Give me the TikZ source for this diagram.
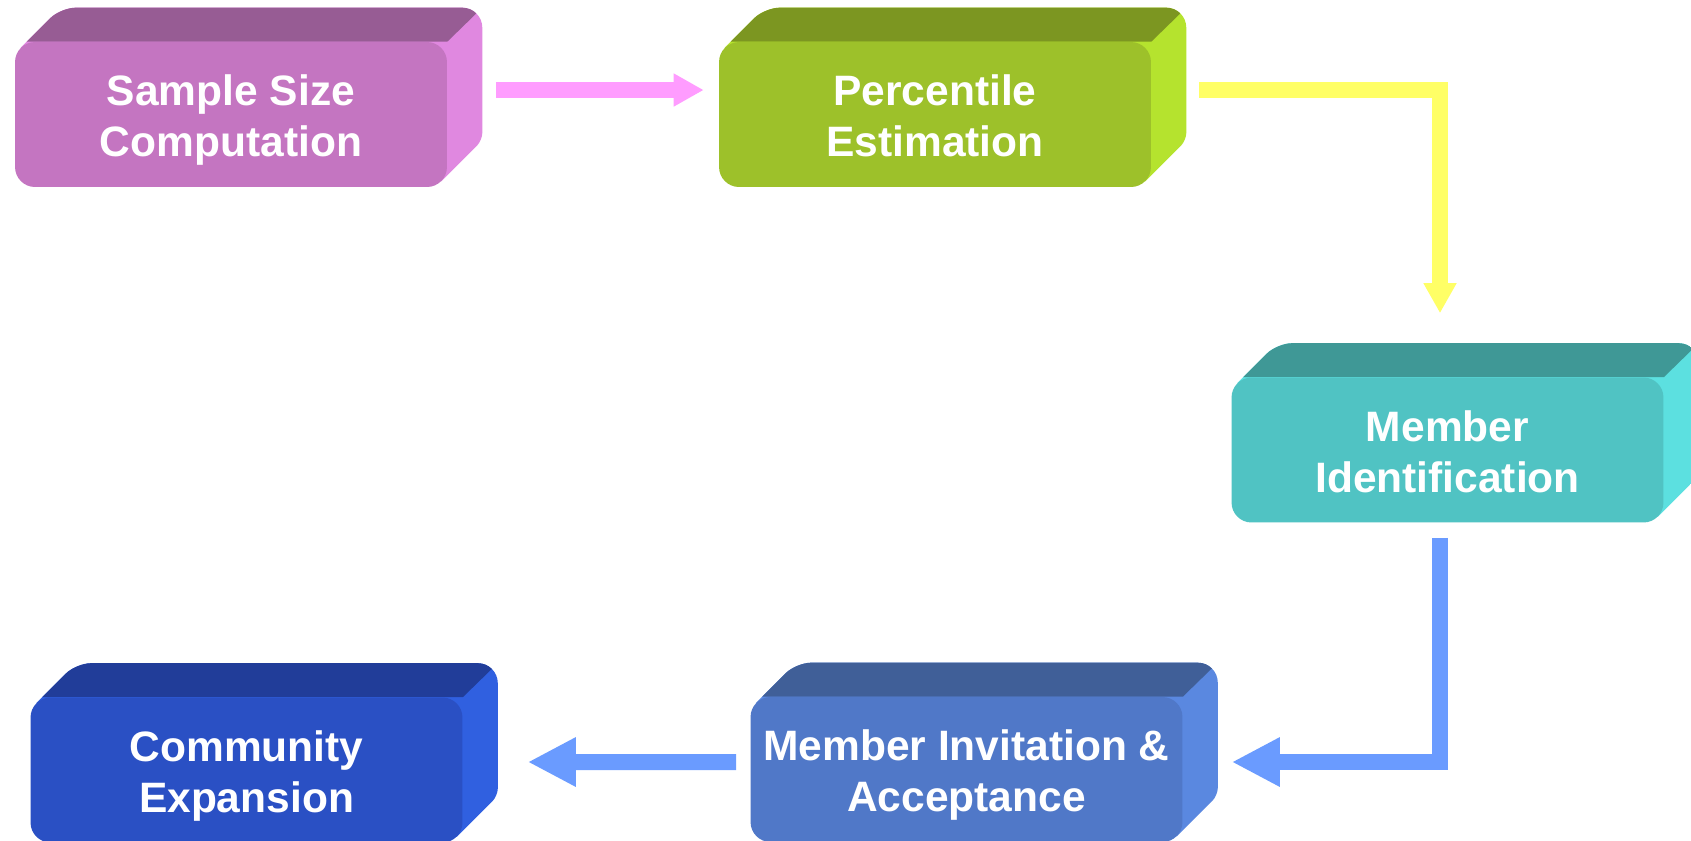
\documentclass[tikz,border=0pt]{standalone}
\usepackage{fontspec}
\setmainfont{Liberation Sans}
\usepackage{xcolor}
% face / top / side colours of each step
\definecolor{sampleface}{HTML}{C475C1}
\definecolor{sampletop}{HTML}{975C94}
\definecolor{sampleside}{HTML}{E088E0}
\definecolor{pctface}{HTML}{9DC12A}
\definecolor{pcttop}{HTML}{7C9621}
\definecolor{pctside}{HTML}{B5E32E}
\definecolor{identface}{HTML}{50C3C3}
\definecolor{identtop}{HTML}{3F9896}
\definecolor{identside}{HTML}{5CE0E0}
\definecolor{inviteface}{HTML}{5078C8}
\definecolor{invitetop}{HTML}{405F98}
\definecolor{inviteside}{HTML}{5A88E0}
\definecolor{expandface}{HTML}{2A50C4}
\definecolor{expandtop}{HTML}{213D99}
\definecolor{expandside}{HTML}{3060E0}
\definecolor{arrowpink}{HTML}{FF9CFF}
\definecolor{arrowyellow}{HTML}{FFFF66}
\definecolor{arrowblue}{HTML}{6A9BFF}
\usetikzlibrary{arrows.meta, backgrounds}

\begin{document}
\begin{tikzpicture}[
	x=0.02cm, y=-0.02cm,
	slab/.style={rectangle, rounded corners=0.4cm, minimum width=8.64cm, minimum height=2.9cm,
	             align=center, text=white, inner sep=0pt, text height=1.74cm, text depth=0.06cm,
	             font=\fontsize{24.2pt}{29pt}\selectfont\bfseries},
	flow/.style={line width=0.32cm, -{Triangle[length=0.6cm, width=0.62cm]}},
	bigflow/.style={line width=0.32cm, -{Triangle[length=0.96cm, width=0.92cm]}}
	]
	\useasboundingbox (0,0) rectangle (1691,840);

	\node[slab, fill=sampleface] (sample) at (231,114.5) {Sample Size\\Computation};
	\node[slab, fill=pctface] (pct) at (935,114.5) {Percentile\\Estimation};
	\node[slab, fill=identface] (ident) at (1447.5,450) {Member\\Identification};
	\node[slab, fill=inviteface] (invite) at (966.5,769.5) {Member Invitation \&\\Acceptance};
	\node[slab, fill=expandface] (expand) at (246.5,770) {Community\\Expansion};

	\draw[flow, arrowpink] ([xshift=0.98cm,yshift=0.49cm]sample.east) -- ([xshift=-0.3cm,yshift=0.49cm]pct.west);
	\draw[flow, arrowyellow] ([xshift=0.96cm,yshift=0.49cm]pct.east) -| ([xshift=-0.15cm,yshift=1.28cm]ident.north);
	\draw[bigflow, arrowblue] ([xshift=-0.15cm,yshift=-0.3cm]ident.south) |- ([xshift=0.98cm,yshift=0.15cm]invite.east);
	\draw[bigflow, arrowblue] ([xshift=-0.28cm,yshift=0.15cm]invite.west) -- ([xshift=1.3cm,yshift=0.16cm]expand.east);

	% extruded top and side faces behind every step
	\begin{scope}[on background layer]
	\fill[white] (0,0) rectangle (1691,840);
	\foreach \n in {sample, pct, ident, invite, expand} {
	  \begin{scope}
	  \clip (\n.center) -- ([xshift=0.12cm,yshift=-0.12cm]\n.north west)
	    [rounded corners=0.3cm] -- ([shift={(0.92cm,0.68cm)}]\n.north west)
	    [rounded corners=0.4cm] -- ([shift={(0.7cm,0.68cm)}]\n.north east)
	    [rounded corners=0.15cm] -- ([shift={(0.7cm,0.94cm)}]\n.south east)
	    [sharp corners] -- ([xshift=-0.12cm,yshift=0.12cm]\n.south east) -- cycle;
	  \fill[\n side] ([shift={(-1cm,1cm)}]\n.north west) rectangle ([shift={(1cm,-1cm)}]\n.south east);
	  \fill[\n top] ([xshift=-0.2cm]\n.north west) -- (\n.north east)
	    -- ([shift={(0.9cm,0.876cm)}]\n.north east) -- ([shift={(-0.2cm,0.876cm)}]\n.north west) -- cycle;
	  \end{scope}
	}
	\end{scope}
\end{tikzpicture}
\end{document}
